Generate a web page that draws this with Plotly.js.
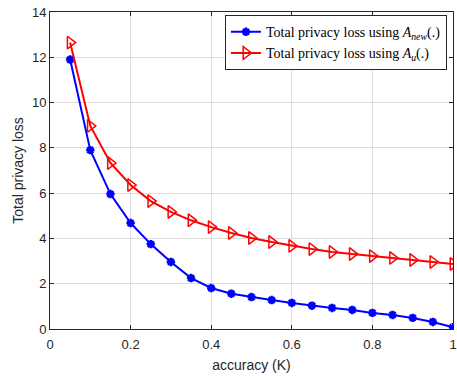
<!DOCTYPE html>
<html><head><meta charset="utf-8">
<script src="https://cdn.plot.ly/plotly-3.0.1.min.js"></script>
<style>html,body{margin:0;padding:0;background:#fff;}#chart{width:457px;height:376px;}</style>
</head><body><div id="chart"></div>
<script>
const accuracy = [0.05,0.1,0.15,0.2,0.25,0.3,0.35,0.4,0.45,0.5,0.55,0.6,0.65,0.7,0.75,0.8,0.85,0.9,0.95,1.0];
const lossNew = [11.9,7.9,5.96,4.68,3.75,2.96,2.25,1.81,1.56,1.41,1.28,1.15,1.03,0.93,0.84,0.71,0.62,0.49,0.31,0.08];
const lossU = [12.65,8.97,7.33,6.36,5.65,5.17,4.8,4.5,4.24,4.02,3.84,3.67,3.53,3.4,3.31,3.22,3.14,3.05,2.96,2.87];
const xTicks = [0,0.2,0.4,0.6,0.8,1];
const xTickText = ['0','0.2','0.4','0.6','0.8','1'];
const yTicks = [0,2,4,6,8,10,12,14];

const traces = [
  {x: accuracy, y: lossNew, mode: 'lines+markers', name: 'Total privacy loss using <i>A</i><sub><i>new</i></sub>(.)',
   line: {color: '#0000ff', width: 2}, marker: {symbol: 'asterisk-open', size: 7, color: '#0000ff', line: {color: '#0000ff', width: 2.5}}},
  {x: accuracy, y: lossU, mode: 'lines+markers', name: 'Total privacy loss using <i>A</i><sub><i>u</i></sub>(.)',
   line: {color: '#ff0000', width: 2}, marker: {symbol: 'triangle-right-open', size: 11, color: '#ff0000', line: {color: '#ff0000', width: 1.5}}}
];
const axisCommon = {showline: true, linecolor: '#262626', linewidth: 1, mirror: 'ticks', ticks: 'inside', ticklen: 4, tickcolor: '#262626',
  showgrid: true, gridcolor: '#dedede', gridwidth: 1, zeroline: false, tickfont: {family: 'Liberation Sans, Arial', size: 13, color: '#262626'}};
const layout = {
  width: 457, height: 376, margin: {l: 50, r: 4, t: 12, b: 47},
  paper_bgcolor: '#fff', plot_bgcolor: '#fff', font: {family: 'Liberation Sans, Arial', color: '#262626'},
  xaxis: Object.assign({}, axisCommon, {range: [0, 1], tickvals: xTicks, ticktext: xTickText, automargin: false, ticklabelstandoff: 3,
    title: {text: 'accuracy (K)', font: {size: 14, color: '#262626'}, standoff: 9}}),
  yaxis: Object.assign({}, axisCommon, {range: [0, 14], tickvals: yTicks, automargin: false,
    title: {text: 'Total privacy loss', font: {size: 14, color: '#262626'}, standoff: 5}}),
  legend: {x: 0.985, y: 0.99, xanchor: 'right', yanchor: 'top', bgcolor: '#fff', bordercolor: '#262626', borderwidth: 1,
    font: {family: 'Liberation Serif', size: 14, color: '#000'}, tracegroupgap: 0, itemwidth: 30},
  showlegend: true
};
Plotly.newPlot('chart', traces, layout, {displayModeBar: false, staticPlot: true});
</script></body></html>
